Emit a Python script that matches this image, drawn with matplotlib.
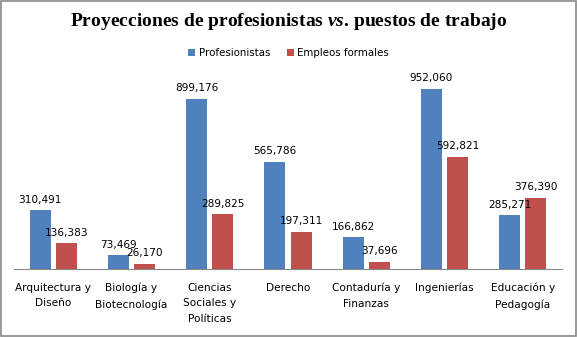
import numpy as np
import matplotlib.pyplot as plt
from matplotlib.patches import Rectangle

# Chart data
categories = ["Arquitectura y\nDiseño", "Biología y\nBiotecnología", "Ciencias\nSociales y\nPolíticas",
              "Derecho", "Contaduría y\nFinanzas", "Ingenierías", "Educación y\nPedagogía"]
profesionistas = [310491, 73469, 899176, 565786, 166862, 952060, 285271]
empleos = [136383, 26170, 289825, 197311, 37696, 592821, 376390]

blue = "#4F81BD"
red = "#C0504D"

plt.rcParams['font.family'] = ['DejaVu Sans']
plt.rcParams['mathtext.fontset'] = 'custom'
plt.rcParams['mathtext.it'] = 'Liberation Serif:italic:bold'
plt.rcParams['mathtext.rm'] = 'Liberation Serif:bold'

fig = plt.figure(figsize=(5.77, 3.37), dpi=100)
ax = fig.add_axes([14 / 577, 68 / 337, 548 / 577, 201 / 337])

x = np.arange(len(categories))
w = 0.269
gap = 0.064
b1 = ax.bar(x - w / 2 - gap / 2, profesionistas, w, color=blue, label="Profesionistas")
b2 = ax.bar(x + w / 2 + gap / 2, empleos, w, color=red, label="Empleos formales")

for bars, vals in ((b1, profesionistas), (b2, empleos)):
    for rect, v in zip(bars, vals):
        ax.annotate(f"{v:,}", (rect.get_x() + rect.get_width() / 2, rect.get_height()),
                    xytext=(0, 4), textcoords="offset points", ha="center", va="bottom",
                    fontsize=7.6, color="black")

ax.set_xlim(-0.5, len(categories) - 0.5)
ax.set_ylim(0, 952060 * 201 / 180)
ax.set_xticks(x)
ax.set_xticklabels(categories, fontsize=7.6, linespacing=1.7)
ax.tick_params(axis="x", length=0, pad=10)
ax.set_yticks([])
for s in ["top", "right", "left"]:
    ax.spines[s].set_visible(False)
ax.spines["bottom"].set_color("#888888")

fig.text(0.5, 0.935, "Proyecciones de profesionistas $\\it{vs}$. puestos de trabajo",
         ha="center", va="center", fontsize=14, fontweight="bold", family="Liberation Serif")
fig.legend(handles=[b1, b2], loc="center", bbox_to_anchor=(0.5, 0.842), ncol=2, frameon=False,
           fontsize=7.4, handlelength=0.7, handleheight=0.7, handletextpad=0.35, columnspacing=1.6)

fig.patches.append(Rectangle((0.002, 0.003), 0.996, 0.994, transform=fig.transFigure,
                             fill=False, edgecolor="#888888", linewidth=1.2))

fig.savefig("out.png", dpi=100)
